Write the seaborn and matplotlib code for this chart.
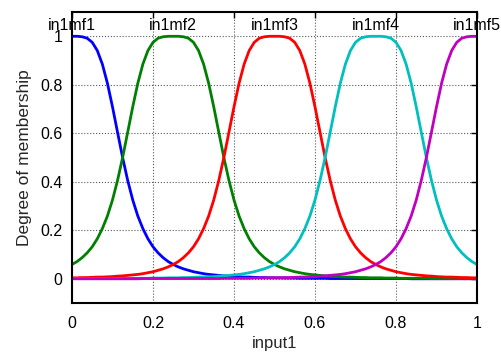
import matplotlib
matplotlib.use("Agg")
import matplotlib.pyplot as plt
import seaborn as sns
import pandas as pd

x = [i / 80 for i in range(81)]
mf1 = [1.000, 1.000, 0.998, 0.992, 0.975, 0.941, 0.885, 0.806, 0.709, 0.604,
       0.500, 0.406, 0.325, 0.259, 0.207, 0.165, 0.132, 0.107, 0.087, 0.071,
       0.059, 0.049, 0.041, 0.035, 0.029, 0.025, 0.021, 0.018, 0.016, 0.014,
       0.012, 0.011, 0.009, 0.008, 0.007, 0.007, 0.006, 0.005, 0.005, 0.004,
       0.004, 0.004, 0.003, 0.003, 0.003, 0.002, 0.002, 0.002, 0.002, 0.002,
       0.002, 0.001, 0.001, 0.001, 0.001, 0.001, 0.001, 0.001, 0.001, 0.001,
       0.001, 0.001, 0.001, 0.001, 0.001, 0.001, 0.001, 0.000, 0.000, 0.000,
       0.000, 0.000, 0.000, 0.000, 0.000, 0.000, 0.000, 0.000, 0.000, 0.000,
       0.000]
mf2 = [0.059, 0.071, 0.087, 0.107, 0.132, 0.165, 0.207, 0.259, 0.325, 0.406,
       0.500, 0.604, 0.709, 0.806, 0.885, 0.941, 0.975, 0.992, 0.998, 1.000,
       1.000, 1.000, 0.998, 0.992, 0.975, 0.941, 0.885, 0.806, 0.709, 0.604,
       0.500, 0.406, 0.325, 0.259, 0.207, 0.165, 0.132, 0.107, 0.087, 0.071,
       0.059, 0.049, 0.041, 0.035, 0.029, 0.025, 0.021, 0.018, 0.016, 0.014,
       0.012, 0.011, 0.009, 0.008, 0.007, 0.007, 0.006, 0.005, 0.005, 0.004,
       0.004, 0.004, 0.003, 0.003, 0.003, 0.002, 0.002, 0.002, 0.002, 0.002,
       0.002, 0.001, 0.001, 0.001, 0.001, 0.001, 0.001, 0.001, 0.001, 0.001,
       0.001]
mf3 = [0.004, 0.004, 0.005, 0.005, 0.006, 0.007, 0.007, 0.008, 0.009, 0.011,
       0.012, 0.014, 0.016, 0.018, 0.021, 0.025, 0.029, 0.035, 0.041, 0.049,
       0.059, 0.071, 0.087, 0.107, 0.132, 0.165, 0.207, 0.259, 0.325, 0.406,
       0.500, 0.604, 0.709, 0.806, 0.885, 0.941, 0.975, 0.992, 0.998, 1.000,
       1.000, 1.000, 0.998, 0.992, 0.975, 0.941, 0.885, 0.806, 0.709, 0.604,
       0.500, 0.406, 0.325, 0.259, 0.207, 0.165, 0.132, 0.107, 0.087, 0.071,
       0.059, 0.049, 0.041, 0.035, 0.029, 0.025, 0.021, 0.018, 0.016, 0.014,
       0.012, 0.011, 0.009, 0.008, 0.007, 0.007, 0.006, 0.005, 0.005, 0.004,
       0.004]
mf4 = [0.001, 0.001, 0.001, 0.001, 0.001, 0.001, 0.001, 0.001, 0.001, 0.001,
       0.002, 0.002, 0.002, 0.002, 0.002, 0.002, 0.003, 0.003, 0.003, 0.004,
       0.004, 0.004, 0.005, 0.005, 0.006, 0.007, 0.007, 0.008, 0.009, 0.011,
       0.012, 0.014, 0.016, 0.018, 0.021, 0.025, 0.029, 0.035, 0.041, 0.049,
       0.059, 0.071, 0.087, 0.107, 0.132, 0.165, 0.207, 0.259, 0.325, 0.406,
       0.500, 0.604, 0.709, 0.806, 0.885, 0.941, 0.975, 0.992, 0.998, 1.000,
       1.000, 1.000, 0.998, 0.992, 0.975, 0.941, 0.885, 0.806, 0.709, 0.604,
       0.500, 0.406, 0.325, 0.259, 0.207, 0.165, 0.132, 0.107, 0.087, 0.071,
       0.059]
mf5 = [0.000, 0.000, 0.000, 0.000, 0.000, 0.000, 0.000, 0.000, 0.000, 0.000,
       0.000, 0.000, 0.000, 0.000, 0.001, 0.001, 0.001, 0.001, 0.001, 0.001,
       0.001, 0.001, 0.001, 0.001, 0.001, 0.001, 0.001, 0.001, 0.001, 0.001,
       0.002, 0.002, 0.002, 0.002, 0.002, 0.002, 0.003, 0.003, 0.003, 0.004,
       0.004, 0.004, 0.005, 0.005, 0.006, 0.007, 0.007, 0.008, 0.009, 0.011,
       0.012, 0.014, 0.016, 0.018, 0.021, 0.025, 0.029, 0.035, 0.041, 0.049,
       0.059, 0.071, 0.087, 0.107, 0.132, 0.165, 0.207, 0.259, 0.325, 0.406,
       0.500, 0.604, 0.709, 0.806, 0.885, 0.941, 0.975, 0.992, 0.998, 1.000,
       1.000]

names = ["in1mf1", "in1mf2", "in1mf3", "in1mf4", "in1mf5"]
centers = [0.0, 0.25, 0.5, 0.75, 1.0]
series = [mf1, mf2, mf3, mf4, mf5]
colors = ["#0000ff", "#008000", "#ff0000", "#00bfbf", "#bf00bf"]
xticks = [0, 0.2, 0.4, 0.6, 0.8, 1]
xtick_labels = ["0", "0.2", "0.4", "0.6", "0.8", "1"]
yticks = [0, 0.2, 0.4, 0.6, 0.8, 1]
ytick_labels = ["0", "0.2", "0.4", "0.6", "0.8", "1"]

rows = []
for n, ys in zip(names, series):
    for xv, yv in zip(x, ys):
        rows.append({"x": xv, "y": yv, "mf": n})
df = pd.DataFrame(rows)

sns.set_style("white")
plt.rcParams["font.family"] = ["Liberation Sans", "DejaVu Sans"]

fig = plt.figure(figsize=(5.02, 3.54), dpi=100)
ax = fig.add_axes([0.1434, 0.144, 0.8068, 0.822])
sns.lineplot(data=df, x="x", y="y", hue="mf", palette=dict(zip(names, colors)),
             linewidth=2, legend=False, ax=ax)

ax.set_xlim(0, 1)
ax.set_ylim(-0.1, 1.1)
ax.set_xticks(xticks)
ax.set_xticklabels(xtick_labels)
ax.set_yticks(yticks)
ax.set_yticklabels(ytick_labels)
ax.grid(True, color="0.35", linestyle=":", linewidth=0.8)
ax.set_axisbelow(True)
ax.tick_params(direction="in", length=4, width=1, top=True, right=True, labelsize=11.5,
               colors="black")
ax.tick_params(axis="x", pad=9)
ax.tick_params(axis="y", pad=7)
for s in ax.spines.values():
    s.set_color("black")
    s.set_linewidth(1.5)
    s.set_visible(True)
ax.set_xlabel("input1", fontsize=12, labelpad=4)
ax.set_ylabel("Degree of membership", fontsize=12.5, labelpad=6)

for n, c in zip(names, centers):
    ax.text(c, 1.043, n, ha="center", va="center", fontsize=11.5, color="black")

fig.savefig("out.png", dpi=100)
